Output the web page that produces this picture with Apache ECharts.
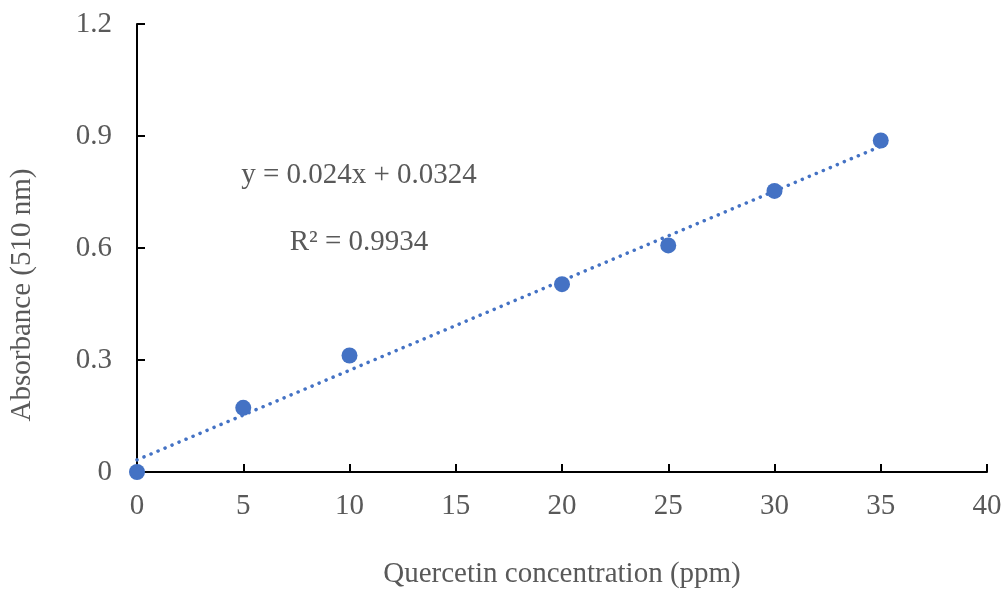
<!DOCTYPE html>
<html>
<head>
<meta charset="utf-8">
<script src="https://cdn.jsdelivr.net/npm/echarts@6/dist/echarts.min.js"></script>
<style>
  html, body { margin: 0; padding: 0; background: #fff; }
  #chart { width: 1008px; height: 594px; }
</style>
</head>
<body>
<div id="chart"></div>
<script>
// 浓度 (ppm) 与 吸光度
var concentration = [0, 5, 10, 20, 25, 30, 35];
var absorbance = [0, 0.172, 0.312, 0.503, 0.607, 0.753, 0.888];
// 趋势线方程
var slope = 0.024;
var intercept = 0.0324;
var trendX = [0, 35];
var xTicks = [0, 5, 10, 15, 20, 25, 30, 35, 40];
var yTicks = [0, 0.3, 0.6, 0.9, 1.2];

var textColor = '#595959';
var blue = '#4472C4';
var fontFamily = '"Liberation Serif", "Times New Roman", serif';
var fs = 29;

var chart = echarts.init(document.getElementById('chart'));

var pts = concentration.map(function (x, i) { return [x, absorbance[i]]; });
var trend = trendX.map(function (x) { return [x, slope * x + intercept]; });

var option = {
  animation: false,
  grid: { left: 137, right: 21, top: 24, bottom: 121 },
  xAxis: {
    type: 'value',
    min: xTicks[0],
    max: xTicks[xTicks.length - 1],
    interval: 5,
    name: 'Quercetin concentration (ppm)',
    nameLocation: 'middle',
    nameGap: 88,
    nameTextStyle: { color: textColor, fontSize: fs, fontFamily: fontFamily },
    axisLine: { lineStyle: { color: '#000', width: 2 } },
    axisTick: { inside: true, length: 8, lineStyle: { color: '#000', width: 2 } },
    axisLabel: { color: textColor, fontSize: fs, fontFamily: fontFamily, margin: 20 },
    splitLine: { show: false }
  },
  yAxis: {
    type: 'value',
    min: yTicks[0],
    max: yTicks[yTicks.length - 1],
    interval: 0.3,
    axisLine: { show: true, lineStyle: { color: '#000', width: 2 } },
    axisTick: { show: true, inside: true, length: 8, lineStyle: { color: '#000', width: 2 } },
    axisLabel: {
      color: textColor, fontSize: fs, fontFamily: fontFamily, margin: 25,
      formatter: function (v) { return String(Math.round(v * 10) / 10); }
    },
    splitLine: { show: false }
  },
  graphic: [
    {
      type: 'text', rotation: Math.PI / 2,
      x: 22, y: 295,
      style: { text: 'Absorbance (510 nm)', fill: textColor, font: fs + 'px ' + fontFamily, align: 'center', verticalAlign: 'middle' }
    },
    {
      type: 'text', x: 359, y: 175,
      style: { text: 'y = ' + slope + 'x + ' + intercept, fill: textColor, font: fs + 'px ' + fontFamily, align: 'center', verticalAlign: 'middle' }
    },
    {
      type: 'text', x: 359, y: 242,
      style: { text: 'R² = 0.9934', fill: textColor, font: fs + 'px ' + fontFamily, align: 'center', verticalAlign: 'middle' }
    }
  ],
  series: [
    {
      type: 'line',
      data: trend,
      symbol: 'none',
      lineStyle: { color: blue, width: 3.5, type: [0.1, 7.5], cap: 'round' },
      z: 2
    },
    {
      type: 'scatter',
      data: pts,
      symbolSize: 16,
      itemStyle: { color: blue, opacity: 1 },
      z: 3
    }
  ]
};

chart.setOption(option);
</script>
</body>
</html>
